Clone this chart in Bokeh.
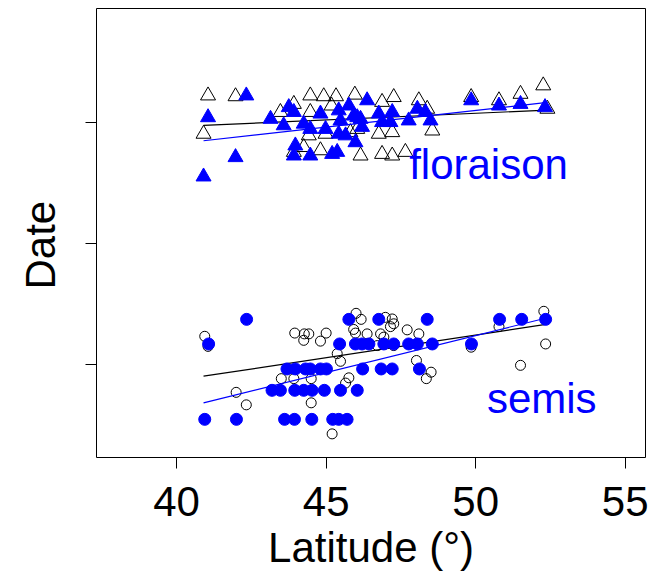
from bokeh.plotting import figure
from bokeh.models import Range1d, FixedTicker, Title, LinearAxis
from bokeh.embed import file_html
from bokeh.resources import INLINE
from bokeh.core.properties import value

# ---- data (latitude in degrees, date as day of year) ----
sem_obs_lat = [40.94, 41.05, 41.99, 42.33, 43.95, 44.27, 44.42, 44.25, 45.00, 44.81,
               43.50, 43.92, 44.50, 44.50, 45.37, 45.48, 45.76, 45.65, 45.20, 46.00,
               46.17, 45.92, 45.98, 46.37, 46.98, 47.21, 47.26, 47.15, 46.82, 46.93,
               47.71, 48.10, 46.71, 47.26, 49.85, 50.78, 52.28, 52.34, 51.50, 48.02,
               48.51, 48.35]
sem_obs_day = [127.0, 124.5, 113.1, 110.0, 127.8, 127.6, 127.6, 126.0, 127.8, 125.8,
               116.5, 116.5, 116.5, 110.5, 122.7, 120.8, 116.7, 115.4, 102.8, 132.7,
               131.2, 128.7, 127.8, 127.6, 131.7, 131.3, 130.1, 129.4, 127.6, 126.8,
               128.6, 127.6, 124.7, 124.7, 124.3, 129.4, 133.2, 125.1, 119.8, 121.0,
               118.1, 116.5]

sem_sim_lat = [42.34, 41.07, 40.94, 42.00, 43.61, 43.94, 44.52, 45.22, 45.42, 45.70,
               43.19, 43.47, 43.95, 44.25, 44.53, 44.94, 45.48, 46.04, 43.69, 43.97,
               44.31, 44.47, 44.81, 45.01, 46.22, 45.45, 45.76, 45.98, 46.20, 46.43,
               46.76, 48.38, 50.80, 51.54, 52.34, 46.93, 47.26, 47.76, 48.05, 48.55,
               49.86, 46.84, 47.21, 48.12]
sem_sim_day = [131.2, 125.1, 106.4, 106.4, 106.4, 106.4, 106.4, 106.4, 106.4, 106.4,
               113.6, 113.6, 113.6, 113.6, 113.6, 113.6, 113.6, 113.6, 118.9, 118.9,
               118.9, 118.9, 118.9, 118.9, 118.9, 125.1, 131.2, 125.1, 125.1, 125.1,
               131.2, 131.2, 131.2, 131.2, 131.2, 125.1, 125.1, 125.1, 125.1, 125.1,
               125.1, 118.9, 118.9, 118.9]

flo_obs_lat = [41.05, 41.97, 40.90, 43.92, 44.47, 44.92, 45.33, 45.96, 45.18, 44.47,
               44.42, 44.98, 44.81, 44.25, 43.92, 46.15, 45.81, 43.47, 46.87, 47.26,
               48.10, 48.38, 49.85, 50.78, 51.50, 52.26, 46.04, 46.76, 47.21, 48.55,
               46.87, 47.21, 47.65, 52.40]
flo_obs_day = [186.7, 186.5, 177.2, 184.6, 186.7, 186.5, 186.5, 186.9, 184.2, 182.6,
               176.8, 177.2, 173.1, 173.9, 172.7, 171.8, 177.6, 182.6, 185.1, 186.3,
               185.5, 183.4, 186.3, 185.5, 187.1, 189.2, 178.4, 177.2, 177.6, 178.0,
               172.2, 171.8, 172.7, 183.4]

flo_sim_lat = [42.33, 41.05, 40.90, 41.97, 43.14, 43.58, 43.75, 43.92, 44.25, 44.47,
               44.81, 44.98, 45.42, 45.48, 45.76, 46.04, 46.20, 46.37, 45.42, 45.65,
               45.98, 43.97, 43.92, 44.47, 45.20, 45.37, 45.92, 46.15, 46.76, 46.87,
               47.21, 47.15, 47.76, 48.05, 48.32, 48.49, 49.85, 50.78, 51.50, 52.32]
flo_sim_day = [186.7, 181.3, 166.6, 171.4, 180.9, 179.3, 183.8, 182.6, 179.7, 178.4,
               182.2, 178.4, 183.0, 180.5, 184.2, 181.3, 178.9, 185.5, 177.2, 176.8,
               175.1, 174.3, 171.8, 171.8, 172.2, 172.7, 181.7, 180.9, 182.2, 180.1,
               182.6, 180.1, 180.5, 183.4, 182.6, 180.5, 185.5, 184.2, 184.6, 183.8]

# fitted regression lines (end points)
fit_lat = [40.9, 52.4]
flo_obs_fit = [179.3, 183.1]
flo_sim_fit = [175.5, 185.0]
sem_obs_fit = [117.1, 130.0]
sem_sim_fit = [110.5, 131.6]

x_ticks = [40, 45, 50, 55]
y_ticks = [120, 150, 180]

FONT = "Liberation Sans"

p = figure(width=660, height=573, output_backend="svg", toolbar_location=None,
           x_range=Range1d(37.32, 55.68), y_range=Range1d(96.94, 208.3),
           min_border_left=96, min_border_right=15, min_border_top=8,
           min_border_bottom=116)
p.grid.visible = False
p.outline_line_color = "black"
p.outline_line_width = 1
p.background_fill_color = "white"
p.border_fill_color = "white"

# open (black) points
p.scatter(sem_obs_lat, sem_obs_day, marker="circle", size=10, fill_color=None,
          line_color="black", line_width=1)
p.scatter(flo_obs_lat, flo_obs_day, marker="triangle", size=15, fill_color=None,
          line_color="black", line_width=1)

# regression lines
p.line(fit_lat, flo_obs_fit, line_color="black", line_width=1.2)
p.line(fit_lat, sem_obs_fit, line_color="black", line_width=1.2)
p.line(fit_lat, flo_sim_fit, line_color="blue", line_width=1.2)
p.line(fit_lat, sem_sim_fit, line_color="blue", line_width=1.2)

# filled (blue) points
p.scatter(sem_sim_lat, sem_sim_day, marker="circle", size=12, fill_color="blue",
          line_color="blue", line_width=1)
p.scatter(flo_sim_lat, flo_sim_day, marker="triangle", size=15, fill_color="blue",
          line_color="blue", line_width=1)

# text annotations
p.text(x=[50.43], y=[169.6], text=["floraison"], text_color="blue",
       text_font=value(FONT), text_font_size="42px", text_align="center",
       text_baseline="alphabetic")
p.text(x=[52.21], y=[111.5], text=["semis"], text_color="blue",
       text_font=value(FONT), text_font_size="42px", text_align="center",
       text_baseline="alphabetic")

for ax in (p.xaxis[0], p.yaxis[0]):
    ax.axis_line_color = None
    ax.major_tick_in = 0
    ax.major_tick_out = 11
    ax.major_tick_line_color = "black"
    ax.major_tick_line_width = 1
    ax.minor_tick_line_color = None
    ax.major_label_text_font = FONT
    ax.major_label_text_font_size = "42px"
    ax.major_label_text_color = "black"
    ax.axis_label_text_font = FONT
    ax.axis_label_text_font_size = "42px"
    ax.axis_label_text_font_style = "normal"
    ax.axis_label_text_color = "black"

p.xaxis.ticker = FixedTicker(ticks=x_ticks)
p.xaxis.major_label_standoff = 18
p.xaxis.axis_label = "Latitude (°)"
p.xaxis.axis_label_standoff = 5

p.yaxis.ticker = FixedTicker(ticks=y_ticks)
p.yaxis.major_label_overrides = {t: "" for t in y_ticks}

# invisible spacer on the left, so that the y title sits where R puts it
spacer = LinearAxis(ticker=FixedTicker(ticks=[150]), major_tick_out=22,
                    major_tick_in=0, major_tick_line_color=None,
                    minor_tick_line_color=None, axis_line_color=None,
                    major_label_overrides={150: ""})
p.add_layout(spacer, "left")

# y-axis title (rotated, left of the box)
ytitle = Title(text="Date", align="left", vertical_align="bottom", offset=168,
               standoff=0, text_font=FONT, text_font_size="42px",
               text_font_style="normal", text_color="black")
p.add_layout(ytitle, "left")

open("out.html", "w").write(file_html(p, INLINE))
